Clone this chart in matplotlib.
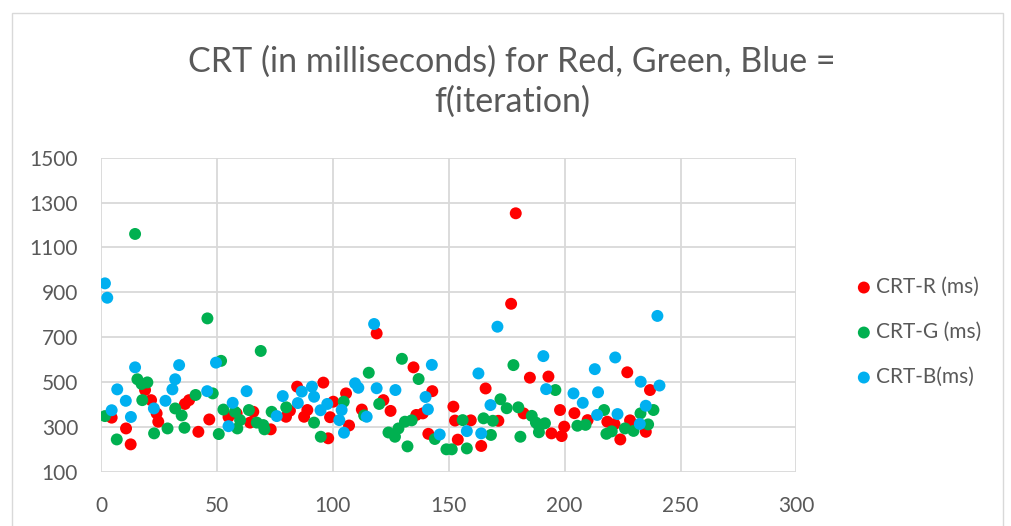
import matplotlib
matplotlib.use("Agg")
import matplotlib.pyplot as plt
from matplotlib.patches import Rectangle

plt.rcParams['font.family'] = ['Lato', 'DejaVu Sans']

title = "CRT (in milliseconds) for Red, Green, Blue =\nf(iteration)"
series_names = ["CRT-R (ms)", "CRT-G (ms)", "CRT-B(ms)"]
colors = ["#FF0000", "#00B050", "#00B0F0"]

red_x = [4.6, 10.8, 12.8, 19, 21.6, 24, 24.7, 36.2, 38, 42, 46.7, 55, 58.5,
         64.3, 65.7, 73.2, 79.8, 81.5, 84.6, 87.6, 89, 95.9, 98, 98.8, 100.2,
         105.7, 107, 112.5, 118.9, 121.8, 124.9, 134.8, 136, 138.8, 141.2,
         142.9, 152, 152.7, 153.9, 159.5, 164, 165.9, 171.4, 176.9, 178.9,
         182.3, 185, 193, 194.3, 198, 198.7, 199.8, 204.2, 209.9, 218.4,
         221.5, 224, 227, 228.2, 235, 236.8]
red_y = [342, 294, 223, 465, 420, 361, 324, 403, 420, 279, 334, 345, 361,
         320, 368, 290, 346, 373, 480, 346, 376, 498, 250, 344, 413,
         450, 307, 378, 717, 420, 372, 566, 354, 361, 270,
         460, 391, 329, 244, 330, 216, 472, 328, 849, 1252,
         361, 520, 525, 272, 376, 260, 302, 362, 331, 324,
         313, 245, 544, 330, 279, 465]

green_x = [1.7, 6.8, 14.7, 15.7, 17.5, 17.8, 20, 22.9, 28.7, 32, 34.8, 36,
           40.8, 45.9, 48.2, 50.8, 51.8, 52.8, 57.8, 58.8, 60, 63.8, 67.2,
           68.9, 70, 70.5, 73.6, 79.9, 91.9, 94.8, 104.7, 113.5, 115.5, 120,
           124, 126.8, 128.3, 129.8, 131.1, 132.2, 134, 137, 144, 149, 151.3,
           156, 157.8, 165, 168.2, 169, 172.3, 175, 177.9, 180, 180.9, 185.8,
           187.6, 189, 188.9, 191.5, 196, 205.5, 209, 217, 218, 220.3, 226,
           229.7, 232.7, 236, 238.3]
green_y = [349, 245, 1160, 513, 492, 420, 499, 272, 294, 383, 352, 297,
           443, 784, 450, 269, 595, 378, 368, 294, 331, 376, 320,
           639, 309, 290, 368, 388, 320, 257, 413, 352, 542, 403,
           276, 257, 294, 604, 324, 214, 330, 514, 247, 201, 201,
           331, 205, 339, 265, 328, 424, 384, 576, 388, 257, 350,
           320, 302, 277, 317, 465, 306, 310, 376, 270, 281, 294,
           283, 361, 312, 376]

blue_x = [1.7, 2.7, 4.6, 7, 10.7, 12.9, 14.7, 22.8, 27.8, 30.8, 32, 33.7,
          45.8, 49.6, 55, 56.8, 62.8, 75.8, 78.4, 84.9, 86.6, 91, 91.9, 94.7,
          97.6, 102.8, 103.8, 104.8, 109.6, 111, 114.6, 117.8, 118.9, 127,
          140, 141, 142.7, 146.1, 157.8, 162.8, 164, 168, 171, 190.8, 192,
          203.8, 207.8, 213, 214.4, 214, 221.8, 222.8, 232.4, 232.8, 235,
          240, 240.9]
blue_y = [940, 876, 375, 468, 417, 345, 566, 383, 417, 468, 513, 576,
          460, 587, 304, 408, 460, 349, 438, 407, 458, 480, 435, 375,
          403, 331, 376, 275, 495, 475, 346, 759, 473, 465,
          434, 379, 577, 267, 282, 539, 272, 398, 747, 616, 469,
          450, 408, 558, 455, 354, 610, 358, 314, 502, 395,
          795, 485]

x_ticks = [0, 50, 100, 150, 200, 250, 300]
y_ticks = [100, 300, 500, 700, 900, 1100, 1300, 1500]

W, H = 1012, 526
fig = plt.figure(figsize=(W / 100, H / 100), dpi=100)
fig.patch.set_facecolor("white")

# chart frame
fig.patches.append(Rectangle((12 / W, -0.05), (1003 - 12) / W, 1.05 - 13 / H,
                             transform=fig.transFigure, fill=False,
                             edgecolor="#D9D9D9", linewidth=1.0))

ax = fig.add_axes([101 / W, 1 - 472 / H, (796.5 - 101) / W, (472 - 157.6) / H])
text_col = "#595959"
for xs, ys, c, n in zip([red_x, green_x, blue_x], [red_y, green_y, blue_y],
                        colors, series_names):
    ax.scatter(xs, ys, s=74, color=c, edgecolors="none", label=n, zorder=3)

ax.set_xlim(0, 300)
ax.set_ylim(100, 1500)
ax.set_xticks(x_ticks)
ax.set_yticks(y_ticks)
ax.grid(True, color="#D9D9D9", linewidth=1.3, zorder=0)
ax.set_axisbelow(True)
for s in ax.spines.values():
    s.set_visible(False)
ax.tick_params(length=0, labelsize=15, labelcolor=text_col)
ax.tick_params(axis="x", pad=17.5)
ax.tick_params(axis="y", pad=16.5)

fig.text(512 / W, 1 - 81.5 / H, title, ha="center", va="center",
         fontsize=24.5, color=text_col, linespacing=1.3)

leg = fig.legend(loc="center left", bbox_to_anchor=(843 / W, 1 - 332 / H),
                 frameon=False, fontsize=15, labelcolor=text_col,
                 handletextpad=0.1, labelspacing=1.2, borderpad=0,
                 handlelength=1.0, markerscale=1.0)

fig.savefig("out.png", dpi=100)
